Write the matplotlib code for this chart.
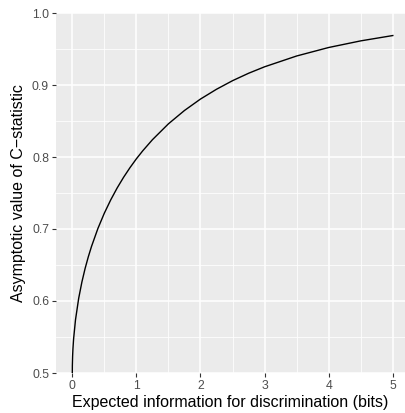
import matplotlib
matplotlib.use('Agg')
import matplotlib.pyplot as plt
from matplotlib.ticker import MultipleLocator, FuncFormatter

plt.rcParams['font.family'] = ['Liberation Sans', 'DejaVu Sans']

# values
info_bits = [0, 0.001, 0.005, 0.01, 0.02, 0.05, 0.1, 0.15, 0.2, 0.25, 0.3, 0.4, 0.5,
             0.6, 0.7, 0.8, 0.9, 1.0, 1.1, 1.25, 1.5, 1.75, 2.0, 2.25, 2.5, 2.75,
             3.0, 3.5, 4.0, 4.5, 5.0]
c_stat = [0.5, 0.5105, 0.5235, 0.5332, 0.5469, 0.5738, 0.6038, 0.6264, 0.6452, 0.6614,
          0.6758, 0.7008, 0.7220, 0.7405, 0.7570, 0.7718, 0.7852, 0.7975, 0.8087, 0.8240,
          0.8461, 0.8646, 0.8805, 0.8941, 0.9060, 0.9163, 0.9253, 0.9403, 0.9521,
          0.9613, 0.9687]

W, H = 405, 413
fig = plt.figure(figsize=(W / 100, H / 100), dpi=100)
ax = fig.add_axes([56 / W, 1 - 373 / H, (405 - 56) / W, (373 - 13) / H])
ax.set_facecolor('#EBEBEB')

ax.plot(info_bits, c_stat, color='black', lw=1.0, zorder=3)

ax.set_xlim(-0.254, 5.19)
ax.set_ylim(0.5, 1.0)
ax.xaxis.set_major_locator(MultipleLocator(1))
ax.xaxis.set_minor_locator(MultipleLocator(0.5))
ax.yaxis.set_major_locator(MultipleLocator(0.1))
ax.yaxis.set_minor_locator(MultipleLocator(0.05))
ax.grid(which='major', color='white', lw=1.1)
ax.grid(which='minor', color='white', lw=0.55)
ax.set_axisbelow(True)
for s in ax.spines.values():
    s.set_visible(False)

ax.tick_params(which='major', length=3, width=0.8, color='#333333',
               labelcolor='#4D4D4D', labelsize=8.8, pad=2)
ax.tick_params(which='minor', length=0)
ax.xaxis.set_major_formatter(FuncFormatter(lambda v, p: f'{v:.0f}'))
ax.yaxis.set_major_formatter(FuncFormatter(lambda v, p: f'{v:.1f}'))

ax.set_xlabel('Expected information for discrimination (bits)', fontsize=11.5, labelpad=2)
ax.set_ylabel('Asymptotic value of C\u2212statistic', fontsize=11.5, labelpad=4)

fig.savefig('out.png', dpi=100)
